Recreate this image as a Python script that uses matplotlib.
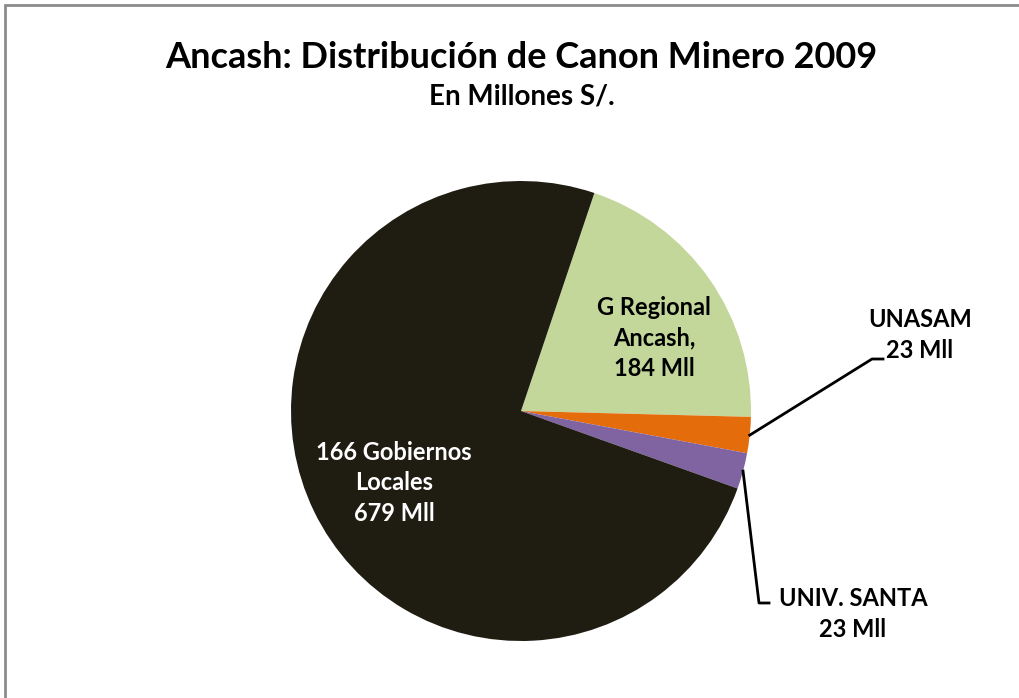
import matplotlib
matplotlib.use('Agg')
import matplotlib.pyplot as plt
import numpy as np
from matplotlib.patches import Rectangle

# datos (millones S/.)
labels = ['G Regional\nAncash,\n184 Mll', 'UNASAM\n23 Mll', 'UNIV. SANTA\n23 Mll',
          '166 Gobiernos\nLocales\n679 Mll']
values = [184, 23, 23, 679]
colors = ['#c4d79b', '#e46c0a', '#8064a2', '#1f1c12']

plt.rcParams['font.family'] = ['Lato', 'DejaVu Sans']

W, H = 1019, 698
fig = plt.figure(figsize=(W / 100, H / 100), dpi=100)

# marco gris
fig.patches.append(Rectangle((5 / W, -0.1), 1.2, 1 - 5 / H + 0.1, transform=fig.transFigure,
                             fill=False, edgecolor='#8c8c8c', linewidth=2))

cx, cy, r = 521, 411, 230
ax = fig.add_axes([(cx - r) / W, (H - cy - r) / H, 2 * r / W, 2 * r / H])
wedges, _ = ax.pie(values, colors=colors, startangle=71.4, counterclock=False,
                   radius=1, wedgeprops=dict(linewidth=0))
ax.set_xlim(-1, 1)
ax.set_ylim(-1, 1)
ax.axis('off')

fig.text(0.5118, 1 - 57 / H, 'Ancash: Distribución de Canon Minero 2009', ha='center', va='center',
         fontsize=26, fontweight='bold', color='black')
fig.text(0.5118, 1 - 97 / H, 'En Millones S/.', ha='center', va='center',
         fontsize=20, fontweight='bold', color='black')

def px(x, y):
    return (x - cx) / r, (cy - y) / r

fs = 17
# etiquetas dentro del pastel
ax.text(*px(654, 338), labels[0], ha='center', va='center', fontsize=fs, fontweight='bold',
        color='black', linespacing=1.4)
ax.text(*px(394, 483), labels[3], ha='center', va='center', fontsize=fs, fontweight='bold',
        color='white', linespacing=1.4)

# lineas guia
for w, lab, p1, p2, tpos in [(wedges[1], labels[1], (872, 359), (883, 359), (920, 335)),
                             (wedges[2], labels[2], (759, 603), (769, 603), (853, 614))]:
    ang = np.deg2rad((w.theta1 + w.theta2) / 2)
    xs = [np.cos(ang), px(*p1)[0], px(*p2)[0]]
    ys = [np.sin(ang), px(*p1)[1], px(*p2)[1]]
    ax.plot(xs, ys, color='black', linewidth=2, clip_on=False)
    ax.text(*px(*tpos), lab, ha='center', va='center', fontsize=fs, fontweight='bold',
            color='black', linespacing=1.4, clip_on=False)

fig.savefig('out.png', dpi=100)
